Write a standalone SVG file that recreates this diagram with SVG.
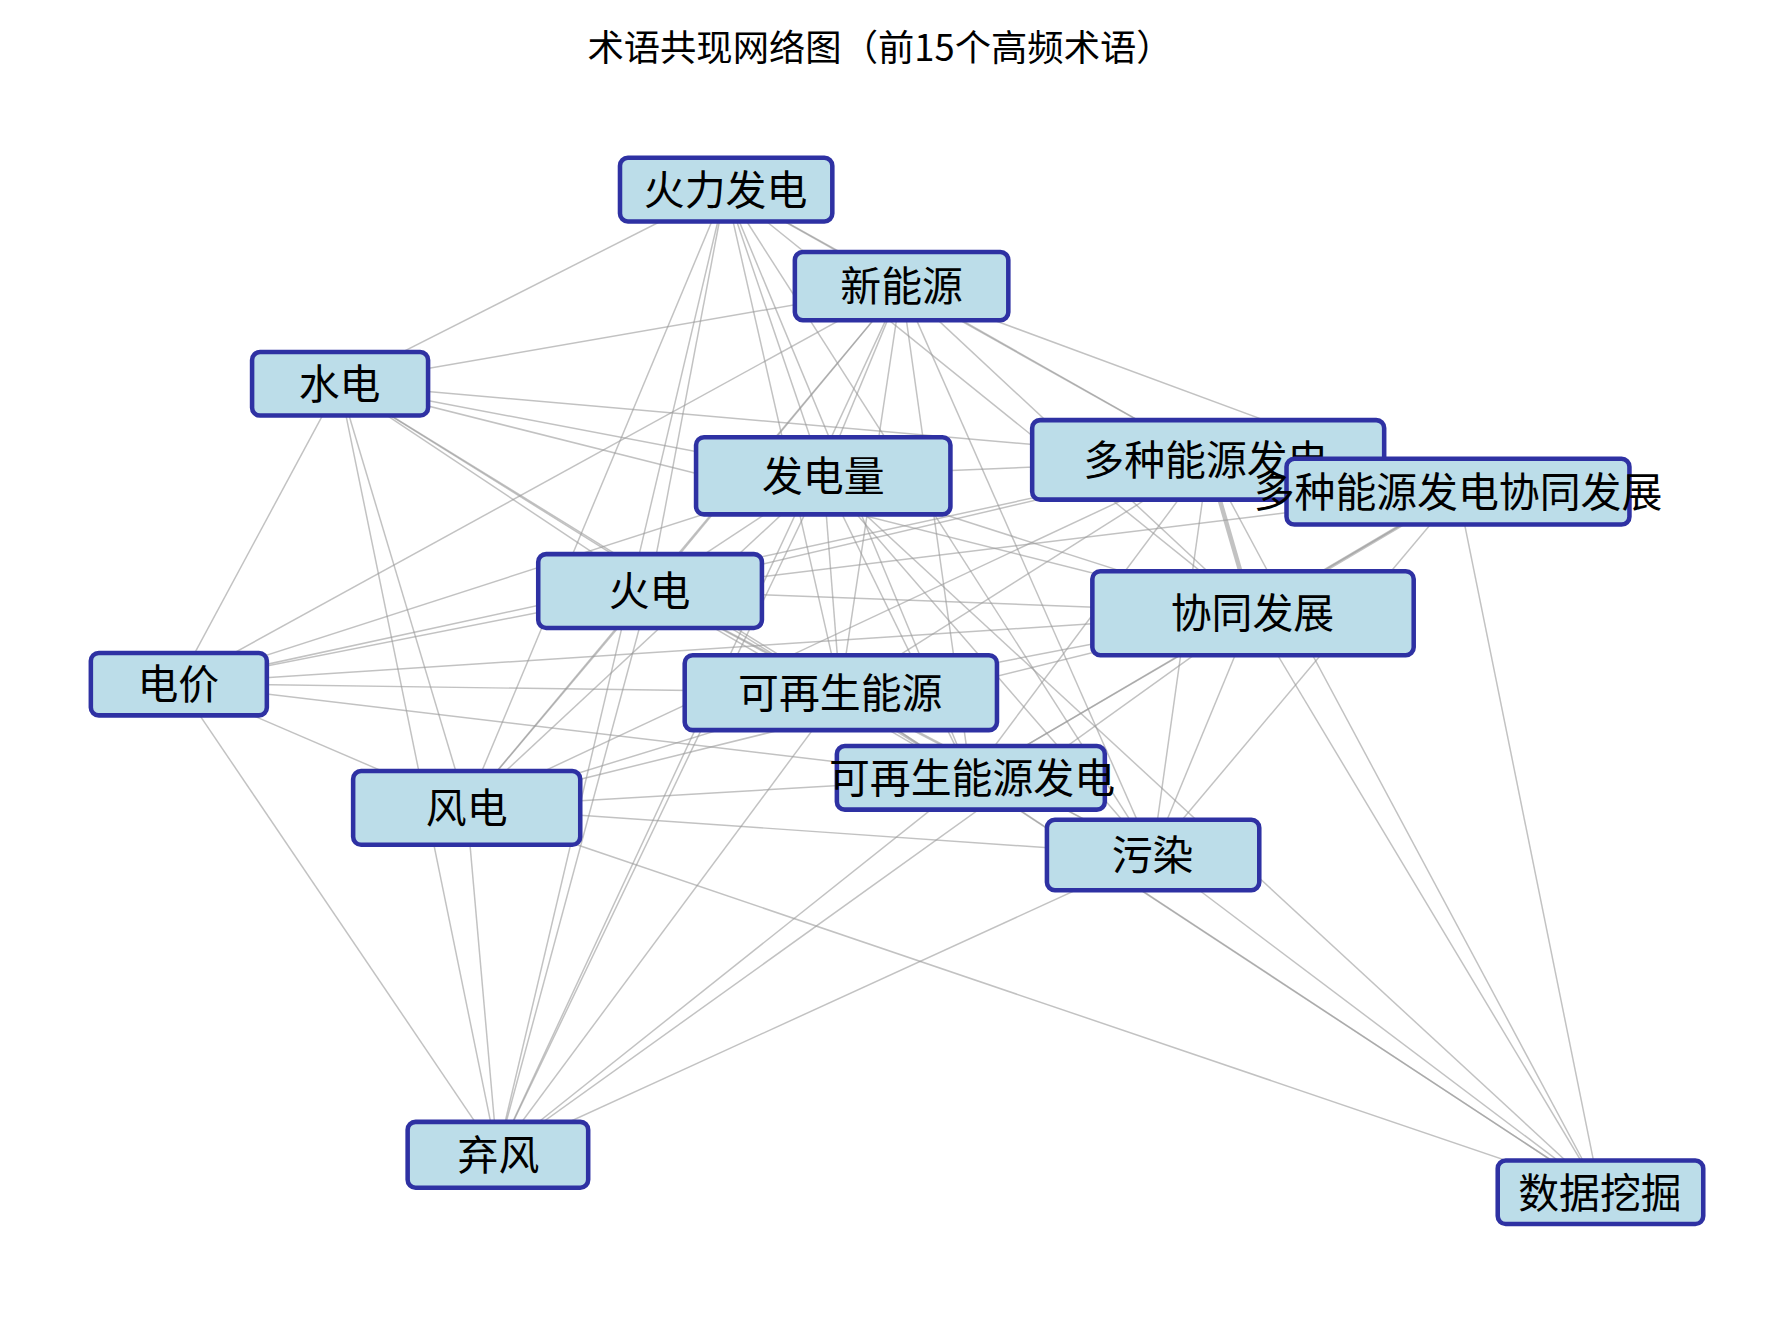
<svg xmlns="http://www.w3.org/2000/svg" width="1779" height="1327" viewBox="0 0 1779 1327">
<style>
.e line{stroke:#999;stroke-opacity:0.6;stroke-width:1.3}
.n rect{fill:#bcdde9;stroke:#2e31a3;stroke-width:4}
.n text{font-family:"Noto Sans CJK SC","Noto Sans",sans-serif;font-size:36px;fill:#000;text-anchor:middle;dominant-baseline:central}
.t{font-family:"Noto Sans CJK SC","Noto Sans",sans-serif;font-size:32px;fill:#000;text-anchor:middle}
</style>
<rect width="1779" height="1327" fill="#fff"/>
<g transform="scale(1.1355)">
<text class="t" x="775" y="54">术语共现网络图（前15个高频术语）</text>
<g id="edges" class="e">
<line x1="639" y1="166" x2="299" y2="338"/><line x1="639" y1="166" x2="794" y2="252"/><line x1="639" y1="166" x2="725" y2="419"/><line x1="639" y1="166" x2="1064" y2="405"/><line x1="639" y1="166" x2="572" y2="520"/><line x1="639" y1="166" x2="740" y2="610"/><line x1="639" y1="166" x2="855" y2="685"/><line x1="639" y1="166" x2="411" y2="711"/><line x1="639" y1="166" x2="438" y2="1017"/><line x1="639" y1="166" x2="1103" y2="540"/><line x1="639" y1="166" x2="1015" y2="753"/>
<line x1="794" y1="252" x2="299" y2="338"/><line x1="794" y1="252" x2="725" y2="419"/><line x1="794" y1="252" x2="1064" y2="405"/><line x1="794" y1="252" x2="1284" y2="433"/><line x1="794" y1="252" x2="572" y2="520"/><line x1="794" y1="252" x2="1103" y2="540"/><line x1="794" y1="252" x2="740" y2="610"/><line x1="794" y1="252" x2="855" y2="685"/><line x1="794" y1="252" x2="157" y2="602"/><line x1="794" y1="252" x2="1015" y2="753"/><line x1="794" y1="252" x2="438" y2="1017"/><line x1="794" y1="252" x2="411" y2="711"/>
<line x1="299" y1="338" x2="725" y2="419"/><line x1="299" y1="338" x2="1064" y2="405"/><line x1="299" y1="338" x2="572" y2="520"/><line x1="299" y1="338" x2="740" y2="610"/><line x1="299" y1="338" x2="855" y2="685"/><line x1="299" y1="338" x2="157" y2="602"/><line x1="299" y1="338" x2="411" y2="711"/><line x1="299" y1="338" x2="438" y2="1017"/><line x1="299" y1="338" x2="1103" y2="540"/>
<line x1="725" y1="419" x2="1064" y2="405"/><line x1="725" y1="419" x2="572" y2="520"/><line x1="725" y1="419" x2="1103" y2="540"/><line x1="725" y1="419" x2="740" y2="610"/><line x1="725" y1="419" x2="855" y2="685"/><line x1="725" y1="419" x2="411" y2="711"/><line x1="725" y1="419" x2="1015" y2="753"/><line x1="725" y1="419" x2="157" y2="602"/><line x1="725" y1="419" x2="438" y2="1017"/><line x1="725" y1="419" x2="1409" y2="1050"/>
<line x1="1064" y1="405" x2="1103" y2="540" style="stroke-width:4"/><line x1="1064" y1="405" x2="572" y2="520"/><line x1="1064" y1="405" x2="740" y2="610"/><line x1="1064" y1="405" x2="855" y2="685"/><line x1="1064" y1="405" x2="1015" y2="753"/><line x1="1064" y1="405" x2="157" y2="602"/><line x1="1064" y1="405" x2="411" y2="711"/><line x1="1064" y1="405" x2="1409" y2="1050"/><line x1="1064" y1="405" x2="1284" y2="433"/>
<line x1="1284" y1="433" x2="1103" y2="540" style="stroke-width:3"/><line x1="1284" y1="433" x2="855" y2="685"/><line x1="1284" y1="433" x2="1409" y2="1050"/><line x1="1284" y1="433" x2="1015" y2="753"/><line x1="1284" y1="433" x2="572" y2="520"/>
<line x1="572" y1="520" x2="157" y2="602"/><line x1="572" y1="520" x2="411" y2="711"/><line x1="572" y1="520" x2="740" y2="610"/><line x1="572" y1="520" x2="1103" y2="540"/><line x1="572" y1="520" x2="1015" y2="753"/><line x1="572" y1="520" x2="438" y2="1017"/><line x1="572" y1="520" x2="855" y2="685"/>
<line x1="1103" y1="540" x2="157" y2="602"/><line x1="1103" y1="540" x2="740" y2="610"/><line x1="1103" y1="540" x2="855" y2="685"/><line x1="1103" y1="540" x2="1015" y2="753"/><line x1="1103" y1="540" x2="1409" y2="1050"/><line x1="1103" y1="540" x2="411" y2="711"/><line x1="1103" y1="540" x2="438" y2="1017"/>
<line x1="157" y1="602" x2="740" y2="610"/><line x1="157" y1="602" x2="411" y2="711"/><line x1="157" y1="602" x2="855" y2="685"/><line x1="157" y1="602" x2="438" y2="1017"/>
<line x1="740" y1="610" x2="411" y2="711"/><line x1="740" y1="610" x2="855" y2="685"/><line x1="740" y1="610" x2="1015" y2="753"/><line x1="740" y1="610" x2="438" y2="1017"/><line x1="740" y1="610" x2="1409" y2="1050"/>
<line x1="855" y1="685" x2="411" y2="711"/><line x1="855" y1="685" x2="438" y2="1017"/><line x1="855" y1="685" x2="1409" y2="1050"/>
<line x1="411" y1="711" x2="1015" y2="753"/><line x1="411" y1="711" x2="438" y2="1017"/><line x1="411" y1="711" x2="1409" y2="1050"/>
<line x1="1015" y1="753" x2="438" y2="1017"/><line x1="1015" y1="753" x2="1409" y2="1050"/>
</g>
<g id="n1" class="n"><rect x="546" y="139" width="187" height="56" rx="7"/><text x="639" y="165">火力发电</text></g>
<g id="n2" class="n"><rect x="700" y="222" width="188" height="60" rx="7"/><text x="794" y="250">新能源</text></g>
<g id="n3" class="n"><rect x="222" y="310" width="155" height="56" rx="7"/><text x="299" y="336">水电</text></g>
<g id="n4" class="n"><rect x="613" y="385" width="224" height="68" rx="7"/><text x="725" y="417">发电量</text></g>
<g id="n5" class="n"><rect x="909" y="370" width="310" height="70" rx="7"/><text x="1062" y="403">多种能源发电</text></g>
<g id="n6" class="n"><rect x="1133" y="404" width="302" height="58" rx="7"/><text x="1284" y="431">多种能源发电协同发展</text></g>
<g id="n7" class="n"><rect x="474" y="488" width="197" height="65" rx="7"/><text x="572" y="518">火电</text></g>
<g id="n8" class="n"><rect x="962" y="503" width="283" height="74" rx="7"/><text x="1103" y="538">协同发展</text></g>
<g id="n9" class="n"><rect x="80" y="575" width="155" height="55" rx="7"/><text x="157" y="600">电价</text></g>
<g id="n10" class="n"><rect x="603" y="577" width="275" height="66" rx="7"/><text x="740" y="608">可再生能源</text></g>
<g id="n11" class="n"><rect x="737" y="657" width="236" height="56" rx="7"/><text x="856" y="683">可再生能源发电</text></g>
<g id="n12" class="n"><rect x="311" y="679" width="200" height="65" rx="7"/><text x="411" y="709">风电</text></g>
<g id="n13" class="n"><rect x="922" y="722" width="187" height="62" rx="7"/><text x="1015" y="751">污染</text></g>
<g id="n14" class="n"><rect x="359" y="988" width="159" height="58" rx="7"/><text x="439" y="1015">弃风</text></g>
<g id="n15" class="n"><rect x="1319" y="1022" width="181" height="56" rx="7"/><text x="1409" y="1048">数据挖掘</text></g>
</g>
</svg>
